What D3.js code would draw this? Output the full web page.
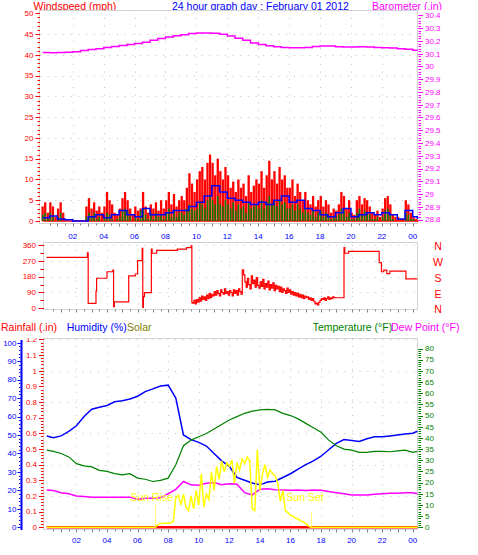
<!DOCTYPE html>
<html>
<head>
<meta charset="utf-8">
<script src="https://cdn.jsdelivr.net/npm/d3@7"></script>
<style>
  body { margin: 0; background: #fff; }
  svg { display: block; font-family: "Liberation Sans", Arial, sans-serif; }
</style>
</head>
<body>
<div id="chart"></div>
<script>
// ---- data ----
const hourLabels = ["02", "04", "06", "08", "10", "12", "14", "16", "18", "20", "22", "00"];
const hourLabelValues = [2, 4, 6, 8, 10, 12, 14, 16, 18, 20, 22, 24];

// wind, 10 minute samples from 00:05
const windStart = 0.05;
const windStep = 1 / 6;
const windGust = [
  3.5, 4.5, 2, 4.5, 3.5, 1,   3, 4.5, 2, 0, 0, 0,   0, 0, 0, 0, 0, 3.5,
  5.5, 3, 4.5, 2.5, 3.5, 2,   3.5, 7, 5, 4, 2, 1.5,   3, 5.5, 7, 5, 3, 1.5,
  3.5, 2.5, 3, 7, 3.5, 2,   4, 3, 4.5, 2.5, 5, 3,   5, 7, 4, 6.5, 3.5, 5,
  6, 5, 8, 11.5, 9, 7,   10, 12, 13, 10, 14, 16,   14, 11, 15, 12, 10, 13,
  11, 8, 9.5, 7, 10, 8,   9, 6, 11, 7, 8.5, 10,   9, 12, 8, 11, 14.5, 10,
  12, 9, 13, 10, 11, 8,   8, 10, 6, 9, 7, 5,   7, 5, 4, 6, 3.5, 5,
  6, 3.5, 5, 4, 2, 3,   2.5, 4, 7, 6, 3, 5,   2, 1.5, 5, 6, 4, 5.5,
  5, 3.5, 2, 1.5, 2.5, 1,   3, 5.5, 6, 4, 1.5, 1,   1, 0.5, 0.5, 5, 4, 2,
  1, 0.5
];
const windSpeed = [
  1.5, 2, 0.5, 2, 1, 0,   1, 2, 0, 0, 0, 0,   0, 0, 0, 0, 0, 1,
  2, 1, 2, 0.5, 1, 0,   1, 2, 1.5, 0.5, 0, 0.5,   1, 2.5, 3, 2.5, 1, 0,
  1, 0.5, 2.5, 3, 1.5, 0.5,   2, 0.5, 2, 1, 1.5, 0.5,   2, 3, 1, 2.5, 1, 2,
  2, 1.5, 3, 4, 3, 2.5,   3, 4.5, 4, 3, 5, 6,   5, 4, 6, 4, 3.5, 5,
  4, 3, 4.5, 2.5, 4, 3,   3.5, 2, 4.5, 3, 3.5, 4,   3, 5, 3, 4.5, 6, 4,
  4.5, 3.5, 5, 4, 4.5, 3,   3, 4, 2.5, 4, 3, 2,   3, 2, 1.5, 2.5, 1, 2,
  2.5, 1, 2, 1.5, 0.5, 1,   1, 1.5, 3, 2.5, 1, 2,   0.5, 0.5, 2, 3, 1.5, 2.5,
  2, 1.5, 0.5, 0.5, 1, 0,   1, 2.5, 3, 1.5, 0.5, 0,   0, 0, 0, 2, 1.5, 0.5,
  0.5, 0
];
// half-hour samples
const halfHours = [0.06, ...d3.range(0.5, 24.01, 0.5), 24.3];
const windAvg = [
  0.8, 1.2, 0.5, 0.3, 0, 0, 1, 1.5, 0.8, 1.5, 2.5, 1.5, 1, 3, 1.5, 1.5, 2, 2.5,
  2.5, 3.5, 4.5, 6, 8.5, 7, 5.5, 5, 4.5, 4, 4.5, 4, 5, 6, 4.5, 5, 3, 2.5,
  1.5, 1, 2, 3, 1, 1.5, 2, 1.5, 2, 1.5, 0.5, 2.5, 1, 0.5
];
const barometer = [
  30.110, 30.108, 30.110, 30.112, 30.115, 30.125, 30.133, 30.140, 30.150, 30.157,
  30.165, 30.172, 30.180, 30.190, 30.205, 30.220, 30.232, 30.242, 30.250, 30.258,
  30.262, 30.262, 30.260, 30.252, 30.240, 30.222, 30.205, 30.185, 30.172, 30.162,
  30.155, 30.150, 30.148, 30.147, 30.150, 30.157, 30.160, 30.160, 30.155, 30.153,
  30.153, 30.155, 30.153, 30.150, 30.148, 30.145, 30.140, 30.135, 30.128, 30.127
];

// wind direction: step changes before and after the gusty spell
const dirHoursA = [
  0.05, 2.72, 2.77, 3.28, 3.32, 4.00, 4.38, 4.43, 4.48, 5.42, 5.85, 6.00, 6.30, 6.34, 6.38, 6.45,
  6.90, 6.95, 7.25, 8.60, 9.20, 9.50, 9.55
];
const dirDegA = [
  290, 316, 28, 98, 171, 208, 217, 9, 36, 184, 195, 271, 341, 5, 66, 89,
  336, 313, 330, 337, 345, 355, 32
];
// gusty spell, 5 minute samples from 09:36
const dirNoiseStart = 9.6;
const dirNoiseStep = 1 / 12;
const dirNoise = [
  30, 45, 25, 50, 35, 60,
  40, 70, 50, 65, 45, 75, 55, 85, 60, 80, 70, 95,
  75, 100, 85, 70, 105, 90, 80, 110, 85, 95, 75, 100,
  90, 70, 105, 85, 100, 75, 110, 95, 80, 218, 190, 150,
  120, 170, 135, 110, 185, 140, 160, 120, 175, 130, 115, 150,
  125, 165, 110, 140, 120, 155, 105, 135, 115, 145, 100, 130,
  110, 125, 95, 120, 90, 110, 100, 85, 115, 90, 105, 80,
  95, 75, 90, 70, 85, 65, 80, 60, 75, 55, 70, 60,
  65, 50, 60, 45, 55, 40, 25, 30, 20, 35, 45, 55,
  50, 60, 45, 55, 65, 50, 60, 55, 65, 60
];
const dirHoursB = [18.85, 19.50, 19.55, 19.80, 21.80, 21.95, 22.10, 22.30, 22.50, 23.55, 24.30];
const dirDegB = [60, 345, 313, 324, 260, 208, 217, 197, 211, 167, 167];
const dirLetters = ["N", "W", "S", "E", "N"];
const dirLetterValues = [360, 270, 180, 90, 0];

// temperature panel, half-hour samples
const humidity = [
  49.5, 48.5, 49.5, 52, 55, 60, 64, 65, 66, 68, 68.5, 69.5, 71, 73.5, 75, 76.5, 77, 70,
  50, 47.5, 46, 44, 40, 36, 33, 27, 25.5, 24, 23, 24.5, 25, 27, 29, 31.5, 34, 36,
  38.5, 42, 45.5, 47.5, 47, 46.5, 48, 49, 49, 49.5, 50, 50.5, 51, 52
];
const temperature = [
  34.5, 34, 33, 31.5, 28.5, 27.5, 27, 25.5, 25, 24, 23.5, 24, 22, 21.5, 20.5, 21, 22, 28,
  36.5, 39, 40.5, 42, 44, 46, 48, 49.5, 51, 52, 52.5, 52.8, 52.5, 51, 50, 48.5, 46.5, 44.5,
  42.5, 39, 36.5, 35, 34.5, 33.5, 33.5, 34, 34, 33.8, 34.2, 34.5, 33.5, 34
];
const dewPoint = [
  16.7, 16.5, 15.5, 15, 14, 13.8, 13.5, 13.5, 13.5, 13.5, 13.5, 13.5, 12.5, 13, 13, 13.2, 15, 17,
  20.5, 19, 18.8, 19.7, 20, 19, 19.5, 19.3, 15.5, 14.5, 17, 17.2, 16.8, 16.7, 16.6, 16.7, 16.5, 16.7,
  16.6, 16, 15.5, 15, 14.5, 14.5, 14.5, 14.8, 15, 15.2, 15.2, 15.5, 15.5, 15
];
const rainfall = 0;

// solar, 10 minute samples from 07:00
const solarStart = 7.0;
const solarStep = 1 / 6;
const solar = [
  0, 0, 15, 20, 22, 22, 22, 25, 30, 160, 175, 120, 180, 110, 90, 170, 100, 200,
  120, 290, 110, 180, 150, 300, 200, 330, 260, 360, 300, 350, 330, 365, 240, 350,
  310, 370, 345, 380, 360, 100, 90, 420, 200, 290, 340, 270, 310, 290, 280, 240,
  140, 200, 90, 80, 65, 60, 50, 45, 35, 30, 20, 8, 0
];
const sunRise = 7.12, sunRiseMark = 130;
const sunSet = 17.34, sunSetMark = 82;

// ---- layout ----
const width = 478, height = 555;
const T0 = -0.12, T1 = 24.34;
const gridGrey = "#c0c0c0";
const frameGrey = "#d4d4d4";
const tickGrey = "#808080";
const fmt1 = d3.format(".1~f");

const svg = d3.select("#chart").append("svg")
  .attr("width", width)
  .attr("height", height);

const defs = svg.append("defs");
defs.append("clipPath").attr("id", "titleClip")
  .append("rect").attr("x", 0).attr("y", 0).attr("width", width).attr("height", 10);

// helper: ticks drawn as small lines
function tickMarks(g, values, scale, x0, x1, color) {
  g.append("g").selectAll("line")
    .data(values)
    .join("line")
      .attr("x1", x0).attr("x2", x1)
      .attr("y1", d => Math.round(scale(d)) + 0.5)
      .attr("y2", d => Math.round(scale(d)) + 0.5)
      .attr("stroke", color)
      .attr("stroke-width", 1);
}
function tickLabels(g, values, scale, x, anchor, color, fmt) {
  g.append("g").selectAll("text")
    .data(values)
    .join("text")
      .text(fmt)
      .attr("x", x)
      .attr("y", d => scale(d))
      .attr("dy", "0.35em")
      .attr("text-anchor", anchor)
      .attr("font-size", 8)
      .attr("fill", color);
}
function hGrid(g, values, scale, xs) {
  g.append("g").selectAll("line")
    .data(values)
    .join("line")
      .attr("x1", xs.range()[0]).attr("x2", xs.range()[1])
      .attr("y1", d => Math.round(scale(d)) + 0.5)
      .attr("y2", d => Math.round(scale(d)) + 0.5)
      .attr("stroke", gridGrey)
      .attr("stroke-dasharray", "1,6.7");
}
function vGrid(g, xs, y0, y1) {
  g.append("g").selectAll("line")
    .data(hourLabelValues.slice(0, -1))
    .join("line")
      .attr("x1", d => Math.round(xs(d)) + 0.5).attr("x2", d => Math.round(xs(d)) + 0.5)
      .attr("y1", y0).attr("y2", y1)
      .attr("stroke", gridGrey)
      .attr("stroke-dasharray", "1,6.7");
}
function xTicks(g, xs, y) {
  const halfTicks = d3.range(0.5, 24.01, 0.5);
  g.append("g").selectAll("line")
    .data(halfTicks)
    .join("line")
      .attr("x1", d => Math.round(xs(d)) + 0.5).attr("x2", d => Math.round(xs(d)) + 0.5)
      .attr("y1", y).attr("y2", d => y + (d % 1 === 0 ? 3 : 2))
      .attr("stroke", tickGrey);
}
function frame(g, xs, y0, y1) {
  g.append("rect")
    .attr("x", xs.range()[0] - 0.5).attr("y", y0 + 0.5)
    .attr("width", xs.range()[1] - xs.range()[0])
    .attr("height", y1 - y0)
    .attr("fill", "none")
    .attr("stroke", frameGrey);
}

/*----------------------------- */
// Panel 1 : wind + barometer
const x1 = d3.scaleLinear().domain([T0, T1]).range([40, 418]);
const yWind = d3.scaleLinear().domain([0, 50]).range([221, 13.3]);
const yBaro = d3.scaleLinear().domain([28.8, 30.4]).range([219.5, 15.5]);

const p1 = svg.append("g");
frame(p1, x1, 10, 223);
hGrid(p1, d3.range(5, 50, 5), yWind, x1);
vGrid(p1, x1, 10, 223);

const windX = i => x1(windStart + i * windStep);

p1.append("line")
  .attr("x1", windX(0)).attr("x2", windX(windGust.length))
  .attr("y1", yWind(0)).attr("y2", yWind(0))
  .attr("stroke", "red").attr("stroke-width", 1.5);

p1.append("g").selectAll("rect")
  .data(windGust)
  .join("rect")
    .attr("x", (d, i) => windX(i) - 1.15)
    .attr("y", d => yWind(d))
    .attr("width", 2.3)
    .attr("height", d => yWind(0) - yWind(d))
    .attr("fill", "red");

p1.append("g").selectAll("rect")
  .data(windSpeed)
  .join("rect")
    .attr("x", (d, i) => windX(i) - 0.75)
    .attr("y", d => yWind(d))
    .attr("width", 1.5)
    .attr("height", d => yWind(0) - yWind(d))
    .attr("fill", "green");

const stepLine = (xs, ys) => d3.line()
  .x(d => xs(d[0])).y(d => ys(d[1]))
  .curve(d3.curveStepAfter);

p1.append("path")
  .datum(halfHours.map((h, i) => [h, windAvg[i]]))
  .attr("d", stepLine(x1, yWind))
  .attr("fill", "none").attr("stroke", "blue").attr("stroke-width", 1.5);

p1.append("path")
  .datum(halfHours.map((h, i) => [h, barometer[i]]))
  .attr("d", stepLine(x1, yBaro))
  .attr("fill", "none").attr("stroke", "magenta").attr("stroke-width", 1.5);

// panel 1 axes
tickMarks(p1, d3.range(0, 51, 1), yWind, 37.5, 40, "red");
tickMarks(p1, d3.range(0, 51, 5), yWind, 35.5, 40, "red");
tickLabels(p1, d3.range(0, 51, 5), yWind, 33.5, "end", "red", d => d);

const baroMinor = d3.range(0, 81).map(i => 28.8 + i * 0.02);
const baroMajor = d3.range(0, 17).map(i => 28.8 + i * 0.1);
tickMarks(p1, baroMinor, yBaro, 418.5, 421, "magenta");
tickMarks(p1, baroMajor, yBaro, 418.5, 423, "magenta");
tickLabels(p1, baroMajor, yBaro, 425, "start", "magenta", d => fmt1(d));

xTicks(p1, x1, 223.5);

// titles
const titles = svg.append("g").attr("clip-path", "url(#titleClip)")
  .attr("font-size", 10.5);
titles.append("text").text("Windspeed (mph)").attr("x", 33.5).attr("y", 9.5).attr("fill", "red");
titles.append("text").text("24 hour graph day : February 01 2012").attr("x", 172).attr("y", 9.5).attr("fill", "blue");
titles.append("text").text("Barometer (.in)").attr("x", 372).attr("y", 9.5).attr("fill", "magenta");

// shared hour labels
svg.append("g").selectAll("text")
  .data(hourLabelValues)
  .join("text")
    .text((d, i) => hourLabels[i])
    .attr("x", d => x1(d))
    .attr("y", 236)
    .attr("dy", "0.35em")
    .attr("text-anchor", "middle")
    .attr("font-size", 8)
    .attr("fill", "blue");

/*----------------------------- */
// Panel 2 : wind direction
const x2 = d3.scaleLinear().domain([T0, T1]).range([44, 418]);
const yDir = d3.scaleLinear().domain([0, 360]).range([308.3, 245]);

const p2 = svg.append("g");
frame(p2, x2, 242, 309);
hGrid(p2, [90, 180, 270, 360], yDir, x2);
vGrid(p2, x2, 242, 309);

const dirPts = dirHoursA.map((h, i) => [h, dirDegA[i]])
  .concat(dirNoise.map((v, i) => [dirNoiseStart + i * dirNoiseStep, v]))
  .concat(dirHoursB.map((h, i) => [h, dirDegB[i]]));

p2.append("path")
  .datum(dirPts)
  .attr("d", stepLine(x2, yDir))
  .attr("fill", "none").attr("stroke", "red").attr("stroke-width", 1.2);

tickMarks(p2, d3.range(0, 361, 45), yDir, 40.5, 44, "red");
tickMarks(p2, d3.range(0, 361, 90), yDir, 38.5, 44, "red");
tickLabels(p2, d3.range(0, 361, 90), yDir, 36, "end", "red", d => d);
xTicks(p2, x2, 309.5);

p2.append("g").selectAll("text")
  .data(dirLetterValues)
  .join("text")
    .text((d, i) => dirLetters[i])
    .attr("x", 438)
    .attr("y", d => yDir(d) + 1.5)
    .attr("dy", "0.35em")
    .attr("text-anchor", "middle")
    .attr("font-size", 10.5)
    .attr("fill", "red");

/*----------------------------- */
// Panel 3 : rain, humidity, solar, temperature, dew point
const x3 = x2;
const yHum = d3.scaleLinear().domain([0, 100]).range([527.3, 342.7]);
const yRain = d3.scaleLinear().domain([0, 1.2]).range([527.3, 339.4]);
const yTemp = d3.scaleLinear().domain([0, 80]).range([527.3, 348.5]);
const ySolar = d3.scaleLinear().domain([0, 1000]).range([527.3, 342.7]);

defs.append("clipPath").attr("id", "p3Clip")
  .append("rect").attr("x", 0).attr("y", 338).attr("width", width).attr("height", 200);

const p3 = svg.append("g");
frame(p3, x3, 338, 529);
hGrid(p3, d3.range(0.2, 1.21, 0.2), yRain, x3);
vGrid(p3, x3, 338, 529);

// legend row
const legend = svg.append("g").attr("font-size", 10.5);
legend.append("text").text("Rainfall (.in)").attr("x", 1).attr("y", 330.5).attr("fill", "red");
legend.append("text").text("Humidity (%)").attr("x", 66.7).attr("y", 330.5).attr("fill", "blue");
legend.append("text").text("Solar").attr("x", 127).attr("y", 330.5).attr("fill", "#808000");
legend.append("text").text("Temperature (°F)").attr("x", 312.7).attr("y", 330.5).attr("fill", "green");
legend.append("text").text("Dew Point (°F)").attr("x", 391).attr("y", 330.5).attr("fill", "magenta");

const line3 = (ys) => d3.line().x(d => x3(d[0])).y(d => ys(d[1]));

// rainfall (all zero today)
p3.append("line")
  .attr("x1", x3(halfHours[0])).attr("x2", x3(halfHours[halfHours.length - 1]))
  .attr("y1", yRain(rainfall)).attr("y2", yRain(rainfall))
  .attr("stroke", "red").attr("stroke-width", 2.6);

p3.append("path")
  .datum(halfHours.map((h, i) => [h, humidity[i]]))
  .attr("d", line3(yHum))
  .attr("fill", "none").attr("stroke", "blue").attr("stroke-width", 1.5);

p3.append("path")
  .datum(halfHours.map((h, i) => [h, temperature[i]]))
  .attr("d", line3(yTemp))
  .attr("fill", "none").attr("stroke", "green").attr("stroke-width", 1.2);

p3.append("path")
  .datum(halfHours.map((h, i) => [h, dewPoint[i]]))
  .attr("d", line3(yTemp))
  .attr("fill", "none").attr("stroke", "magenta").attr("stroke-width", 1.5);

const solarPts = [[halfHours[0], 0]]
  .concat(solar.map((v, i) => [solarStart + i * solarStep, v]))
  .concat([[halfHours[halfHours.length - 1], 0]]);
p3.append("path")
  .datum(solarPts)
  .attr("d", line3(ySolar))
  .attr("fill", "none").attr("stroke", "yellow").attr("stroke-width", 1.5);

[[sunRise, sunRiseMark, "Sun Rise", 151.7], [sunSet, sunSetMark, "Sun Set", 305]].forEach(([h, top, label, lx]) => {
  p3.append("line")
    .attr("x1", Math.round(x3(h)) + 0.5).attr("x2", Math.round(x3(h)) + 0.5)
    .attr("y1", ySolar(0)).attr("y2", ySolar(top))
    .attr("stroke", "yellow").attr("stroke-dasharray", "1,1");
  p3.append("text").text(label)
    .attr("x", lx).attr("y", 501)
    .attr("text-anchor", "middle")
    .attr("font-size", 10.5)
    .attr("fill", "yellow");
});

// humidity axis (blue, far left)
p3.append("rect").attr("x", 20.5).attr("y", 340).attr("width", 2).attr("height", 190).attr("fill", "blue");
tickMarks(p3, d3.range(0, 101, 2), yHum, 19, 20.5, "blue");
tickMarks(p3, d3.range(0, 101, 10), yHum, 17.5, 20.5, "blue");
tickLabels(p3, d3.range(0, 101, 10), yHum, 16.5, "end", "blue", d => d);

// rainfall axis (red)
const rainAxis = p3.append("g").attr("clip-path", "url(#p3Clip)");
const rainMinor = d3.range(0, 61).map(i => i * 0.02);
const rainMajor = d3.range(0, 13).map(i => i * 0.1);
tickMarks(rainAxis, rainMinor, yRain, 41, 43.5, "red");
tickMarks(rainAxis, rainMajor, yRain, 39, 43.5, "red");
tickLabels(rainAxis, rainMajor, yRain, 37, "end", "red", d => fmt1(d));

// temperature axis (green, right)
tickMarks(p3, d3.range(0, 81, 1), yTemp, 418.5, 421, "green");
tickMarks(p3, d3.range(0, 81, 5), yTemp, 418.5, 423, "green");
tickLabels(p3, d3.range(0, 81, 5), yTemp, 425, "start", "green", d => d);

xTicks(p3, x3, 529.5);

svg.append("g").selectAll("text")
  .data(hourLabelValues)
  .join("text")
    .text((d, i) => hourLabels[i])
    .attr("x", d => x3(d))
    .attr("y", 540)
    .attr("dy", "0.35em")
    .attr("text-anchor", "middle")
    .attr("font-size", 8)
    .attr("fill", "blue");
</script>
</body>
</html>
